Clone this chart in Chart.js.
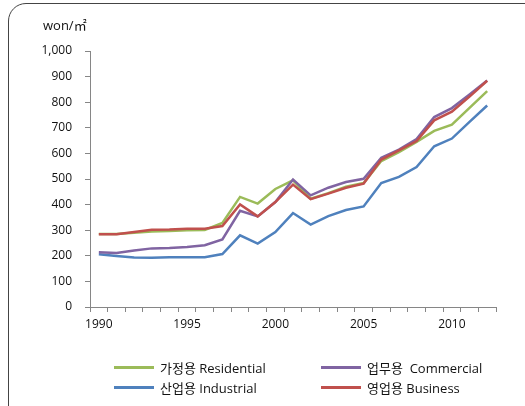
<!DOCTYPE html>
<html lang="ko">
<head>
  <meta charset="utf-8"/>
  <title>용도별 전력 판매단가</title>

  <!-- Chart.js -->
  <script src="https://cdn.jsdelivr.net/npm/chart.js"></script>

  <style>
    html, body { margin: 0; padding: 0; background: #fff; }
    body { width: 525px; height: 406px; position: relative; overflow: hidden;
           font-family: 'Open Sans', 'Noto Sans CJK KR', sans-serif; color: #111; }
    .frame { position: absolute; left: 8px; top: 3px; width: 540px; height: 430px;
             border: 1px solid #444; border-radius: 18px; }
    .wrap { position: absolute; left: 0; top: 0; width: 525px; height: 406px; }
    .unit { position: absolute; left: 43px; top: 15px; font-size: 13px; }
    .legend { position: absolute; left: 0; top: 0; }
    .legend .item { position: absolute; display: flex; align-items: center;
                    font-size: 13px; white-space: pre; }
    .legend .swatch { width: 40px; height: 3px; margin-right: 6px; }
  </style>
</head>
<body>
  <div class="frame"></div>
  <div class="wrap"><canvas id="priceChart" width="525" height="406"></canvas></div>
  <div class="unit">won/㎡</div>
  <div class="legend" id="legend"></div>

  <script>
  // ── DATA ─────────────────────────────────────────
  const years = [1990, 1991, 1992, 1993, 1994, 1995, 1996, 1997, 1998, 1999, 2000,
                 2001, 2002, 2003, 2004, 2005, 2006, 2007, 2008, 2009, 2010, 2011, 2012];
  const residential = [285, 285, 290, 295, 297, 300, 301, 328, 430, 404, 461,
                       495, 423, 445, 470, 484, 570, 605, 645, 688, 712, 778, 843];
  const commercial  = [214, 211, 221, 229, 230, 234, 241, 264, 376, 354, 410,
                       498, 436, 466, 488, 501, 583, 615, 656, 742, 777, 830, 885];
  const industrial  = [206, 199, 193, 192, 194, 194, 194, 207, 280, 248, 293,
                       367, 322, 355, 379, 393, 484, 508, 547, 628, 658, 723, 787];
  const business    = [284, 284, 293, 302, 303, 306, 306, 316, 401, 354, 410,
                       478, 421, 443, 466, 482, 576, 612, 648, 729, 763, 822, 884];
  const yTicks = { min: 0, max: 1000, step: 100 };
  // ────────────────────────────────────────────────

  const axisColor = '#868686';
  const tickFont = { family: "'Open Sans', sans-serif", size: 12 };

  function series(label, data, color, order) {
    return {
      label, data, order,
      borderColor: color, backgroundColor: color,
      borderWidth: 2.5, pointRadius: 0, tension: 0, fill: false
    };
  }

  const datasets = [
    series('가정용 Residential', residential, '#9BBB59', 2),
    series('업무용  Commercial', commercial, '#8064A2', 1),
    series('산업용 Industrial', industrial, '#4F81BD', 3),
    series('영업용 Business', business, '#C0504D', 0)
  ];

  const ctx = document.getElementById('priceChart').getContext('2d');
  const chart = new Chart(ctx, {
    type: 'line',
    data: { labels: years, datasets },
    options: {
      responsive: false,
      animation: false,
      layout: { padding: { left: 0, top: 51, right: 29, bottom: 59 } },
      plugins: { legend: { display: false }, tooltip: { enabled: false } },
      scales: {
        x: {
          offset: true,
          grid: { offset: true, drawOnChartArea: false, drawTicks: true, tickLength: 5, color: axisColor },
          border: { color: axisColor, width: 1 },
          ticks: {
            autoSkip: false, maxRotation: 0, padding: 5, color: '#111', font: tickFont,
            callback: function(v) {
              const y = years[v];
              return y % 5 === 0 ? String(y) : '';
            }
          },
          afterFit: s => { s.height = 40; }
        },
        y: {
          min: yTicks.min, max: yTicks.max,
          grid: { drawOnChartArea: false, drawTicks: true, tickLength: 5, color: axisColor },
          border: { color: axisColor, width: 1 },
          ticks: { stepSize: yTicks.step, padding: 13, color: '#111', font: tickFont },
          afterFit: s => { s.width = 90; }
        }
      }
    }
  });

  // legend in two columns below the plot
  const legendPos = [
    { x: 114, y: 367 }, { x: 321, y: 367 },
    { x: 114, y: 387 }, { x: 321, y: 387 }
  ];
  const legendEl = document.getElementById('legend');
  chart.data.datasets.forEach((ds, i) => {
    const item = document.createElement('div');
    item.className = 'item';
    item.style.left = legendPos[i].x + 'px';
    item.style.top = (legendPos[i].y - 10) + 'px';
    item.style.height = '20px';
    item.innerHTML = `<span class="swatch" style="background:${ds.borderColor}"></span>${ds.label}`;
    legendEl.appendChild(item);
  });
  </script>
</body>
</html>
